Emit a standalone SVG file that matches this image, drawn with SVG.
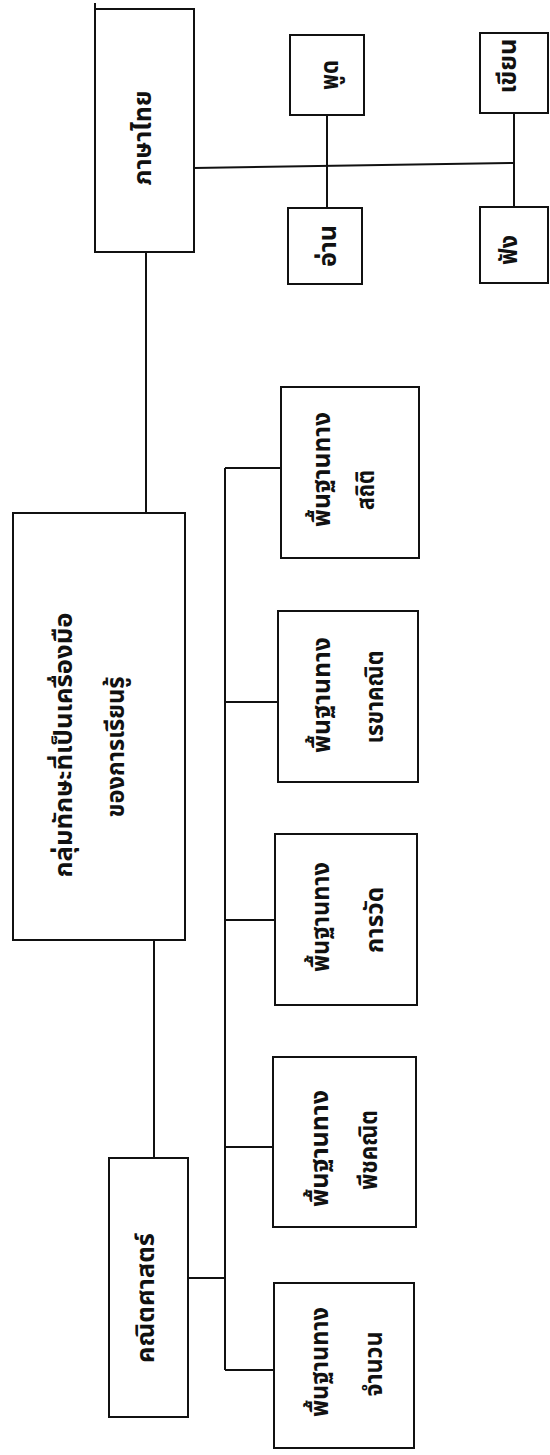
<svg xmlns="http://www.w3.org/2000/svg" width="550" height="1455" viewBox="0 0 550 1455">
<style>
.box{fill:none;stroke:#111;stroke-width:2}
.ln{fill:none;stroke:#111;stroke-width:2}
.t{font-family:"Noto Sans Thai","Noto Sans","DejaVu Sans",sans-serif;font-size:24px;fill:#111;font-weight:bold}
</style>
<rect width="550" height="1455" fill="#fff"/>
<g id="connectors">
<path class="ln" d="M95 3V9"/>
<path class="ln" d="M194 168L514 163"/>
<path class="ln" d="M327 115V208"/>
<path class="ln" d="M514 113V207"/>
<path class="ln" d="M146 252V513"/>
<path class="ln" d="M154 940V1158"/>
<path class="ln" d="M188 1278H225"/>
<path class="ln" d="M225 468V1370"/>
<path class="ln" d="M225 468H281"/>
<path class="ln" d="M225 702H278"/>
<path class="ln" d="M225 920H275"/>
<path class="ln" d="M225 1147H273"/>
<path class="ln" d="M225 1370H274"/>
</g>
<g id="thai">
<rect class="box" x="95" y="9" width="99" height="243"/>
<text class="t" transform="translate(151 138) rotate(-90)" text-anchor="middle" textLength="95" lengthAdjust="spacingAndGlyphs">ภาษาไทย</text>
</g>
<g id="speak">
<rect class="box" x="290" y="35" width="74" height="80"/>
<text class="t" transform="translate(338 75) rotate(-90)" text-anchor="middle" textLength="30" lengthAdjust="spacingAndGlyphs">พูด</text>
</g>
<g id="read">
<rect class="box" x="288" y="208" width="74" height="76"/>
<text class="t" transform="translate(336 246) rotate(-90)" text-anchor="middle" textLength="42" lengthAdjust="spacingAndGlyphs">อ่าน</text>
</g>
<g id="write">
<rect class="box" x="480" y="33" width="68" height="80"/>
<text class="t" transform="translate(516 66) rotate(-90)" text-anchor="middle" textLength="55" lengthAdjust="spacingAndGlyphs">เขียน</text>
</g>
<g id="listen">
<rect class="box" x="480" y="207" width="68" height="76"/>
<text class="t" transform="translate(517 250) rotate(-90)" text-anchor="middle" textLength="30" lengthAdjust="spacingAndGlyphs">ฟัง</text>
</g>
<g id="tools">
<rect class="box" x="13" y="513" width="172" height="427"/>
<text class="t" transform="translate(72 745) rotate(-90)" text-anchor="middle" textLength="265" lengthAdjust="spacingAndGlyphs">กลุ่มทักษะที่เป็นเครื่องมือ</text>
<text class="t" transform="translate(124 747) rotate(-90)" text-anchor="middle" textLength="141" lengthAdjust="spacingAndGlyphs">ของการเรียนรู้</text>
</g>
<g id="math">
<rect class="box" x="109" y="1158" width="79" height="259"/>
<text class="t" transform="translate(154 1298) rotate(-90)" text-anchor="middle" textLength="130" lengthAdjust="spacingAndGlyphs">คณิตศาสตร์</text>
</g>
<g id="stat">
<rect class="box" x="281" y="387" width="138" height="171"/>
<text class="t" transform="translate(330 527) rotate(-90)" textLength="115" lengthAdjust="spacingAndGlyphs">พื้นฐานทาง</text>
<text class="t" transform="translate(374 490) rotate(-90)" text-anchor="middle" textLength="40" lengthAdjust="spacingAndGlyphs">สถิติ</text>
</g>
<g id="geometry">
<rect class="box" x="278" y="611" width="140" height="171"/>
<text class="t" transform="translate(330 753) rotate(-90)" textLength="116" lengthAdjust="spacingAndGlyphs">พื้นฐานทาง</text>
<text class="t" transform="translate(383 697) rotate(-90)" text-anchor="middle" textLength="93" lengthAdjust="spacingAndGlyphs">เรขาคณิต</text>
</g>
<g id="measure">
<rect class="box" x="275" y="834" width="142" height="171"/>
<text class="t" transform="translate(329 972) rotate(-90)" textLength="110" lengthAdjust="spacingAndGlyphs">พื้นฐานทาง</text>
<text class="t" transform="translate(383 920) rotate(-90)" text-anchor="middle" textLength="66" lengthAdjust="spacingAndGlyphs">การวัด</text>
</g>
<g id="algebra">
<rect class="box" x="273" y="1057" width="143" height="170"/>
<text class="t" transform="translate(328 1207) rotate(-90)" textLength="117" lengthAdjust="spacingAndGlyphs">พื้นฐานทาง</text>
<text class="t" transform="translate(377 1150) rotate(-90)" text-anchor="middle" textLength="80" lengthAdjust="spacingAndGlyphs">พีชคณิต</text>
</g>
<g id="number">
<rect class="box" x="274" y="1283" width="140" height="165"/>
<text class="t" transform="translate(328 1417) rotate(-90)" textLength="110" lengthAdjust="spacingAndGlyphs">พื้นฐานทาง</text>
<text class="t" transform="translate(382 1364) rotate(-90)" text-anchor="middle" textLength="65" lengthAdjust="spacingAndGlyphs">จำนวน</text>
</g>
</svg>
